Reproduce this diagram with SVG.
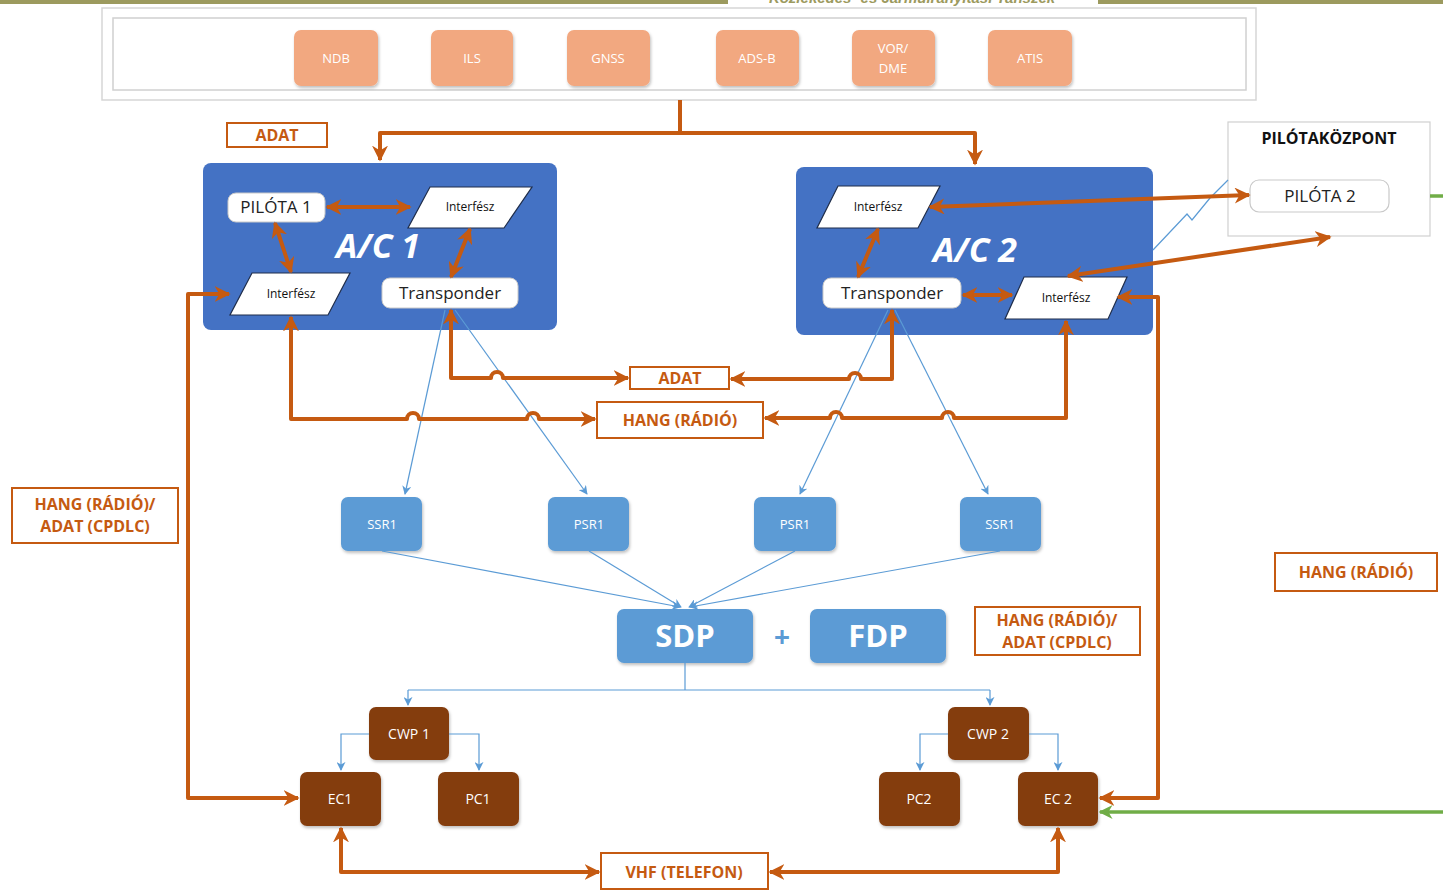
<svg xmlns="http://www.w3.org/2000/svg" width="1443" height="892" viewBox="0 0 1443 892">
<defs>
<marker id="ao" viewBox="0 0 10 10" refX="9" refY="5" markerWidth="4" markerHeight="4" orient="auto-start-reverse" markerUnits="strokeWidth"><path d="M0,0 L10,5 L0,10 L3,5 z" fill="#c55a11"/></marker>
<marker id="ab" viewBox="0 0 10 10" refX="9" refY="5" markerWidth="9" markerHeight="9" orient="auto-start-reverse" markerUnits="userSpaceOnUse"><path d="M0,0 L10,5 L0,10 L3,5 z" fill="#5b9bd5"/></marker>
<marker id="ag" viewBox="0 0 10 10" refX="9" refY="5" markerWidth="4" markerHeight="4" orient="auto-start-reverse" markerUnits="strokeWidth"><path d="M0,0 L10,5 L0,10 L3,5 z" fill="#70ad47"/></marker>
<filter id="sh" x="-10%" y="-10%" width="130%" height="140%"><feDropShadow dx="1" dy="2" stdDeviation="1.5" flood-color="#000" flood-opacity="0.25"/></filter>
</defs>
<style>
.src{fill:#f2a880;filter:url(#sh)}
.srct{font-family:"Open Sans","Liberation Sans",sans-serif;font-size:13px;fill:#fff;text-anchor:middle}
.ac{fill:#4472c4}
.wb{fill:#fff;stroke:#c9c9c9;stroke-width:1}
.par{fill:#fff;stroke:#1f2d4a;stroke-width:1.2}
.ift{font-family:"Open Sans","Liberation Sans",sans-serif;font-size:12px;fill:#111;text-anchor:middle}
.wt{font-family:"Open Sans","Liberation Sans",sans-serif;font-size:17px;fill:#222;text-anchor:middle}
.act{font-family:"Open Sans","Liberation Sans",sans-serif;font-size:34px;font-weight:bold;font-style:italic;fill:#fff;text-anchor:middle}
.oc{fill:none;stroke:#c55a11;stroke-width:4;stroke-linejoin:round}
.bc{fill:none;stroke:#5b9bd5;stroke-width:1.2}
.gc{fill:none;stroke:#70ad47;stroke-width:3.5}
.lb{fill:#fff;stroke:#c55a11;stroke-width:2}
.lt{font-family:"Open Sans","Liberation Sans",sans-serif;font-size:16px;font-weight:bold;fill:#c55a11;text-anchor:middle}
.bl{fill:#5b9bd5;filter:url(#sh)}
.blt{font-family:"Open Sans","Liberation Sans",sans-serif;font-size:13px;fill:#fff;text-anchor:middle}
.big{font-family:"Open Sans","Liberation Sans",sans-serif;font-size:31px;font-weight:bold;fill:#fff;text-anchor:middle}
.br{fill:#843c0c;filter:url(#sh)}
.brt{font-family:"Open Sans","Liberation Sans",sans-serif;font-size:14px;fill:#fff;text-anchor:middle}
</style>
<rect width="1443" height="892" fill="#fff"/>
<!-- header -->
<rect x="0" y="0" width="728" height="4" fill="#9c9a5e"/>
<rect x="1098" y="0" width="345" height="4" fill="#9c9a5e"/>
<text x="912" y="3" font-family="'Liberation Sans',sans-serif" font-size="15" font-weight="bold" font-style="italic" fill="#9c9a5e" text-anchor="middle">Közlekedés- és Járműirányítási Tanszék</text>

<!-- source box -->
<g id="sources">
<rect x="102" y="8" width="1154" height="92" fill="#fff" stroke="#d6d6d6" stroke-width="1.5"/>
<rect x="113" y="18" width="1133" height="72" fill="#fff" stroke="#d0d0d0" stroke-width="1.5"/>
<g id="ndb"><rect class="src" x="294" y="30" width="84" height="56" rx="7"/><text class="srct" x="336" y="63">NDB</text></g>
<g id="ils"><rect class="src" x="431" y="30" width="82" height="56" rx="7"/><text class="srct" x="472" y="63">ILS</text></g>
<g id="gnss"><rect class="src" x="567" y="30" width="83" height="56" rx="7"/><text class="srct" x="608" y="63">GNSS</text></g>
<g id="adsb"><rect class="src" x="716" y="30" width="83" height="56" rx="7"/><text class="srct" x="757" y="63">ADS-B</text></g>
<g id="vordme"><rect class="src" x="852" y="30" width="83" height="56" rx="7"/><text class="srct" x="893" y="53">VOR/</text><text class="srct" x="893" y="73">DME</text></g>
<g id="atis"><rect class="src" x="988" y="30" width="84" height="56" rx="7"/><text class="srct" x="1030" y="63">ATIS</text></g>
</g>

<!-- A/C 1 -->
<g id="ac1">
<rect class="ac" x="203" y="163" width="354" height="167" rx="8"/>
<text class="act" x="378" y="258">A/C 1</text>
<g id="pilota1"><rect class="wb" x="228" y="193" width="97" height="29" rx="8"/><text class="wt" x="276" y="213">PILÓTA 1</text></g>
<g id="if1a"><polygon class="par" points="430,187 532,187 504,228 408,228"/><text class="ift" x="470" y="211">Interfész</text></g>
<g id="if1b"><polygon class="par" points="252,273 350,273 328,315 230,315"/><text class="ift" x="291" y="298">Interfész</text></g>
<g id="transp1"><rect class="wb" x="382" y="278" width="136" height="30" rx="8"/><text class="wt" x="450" y="299">Transponder</text></g>
</g>

<!-- A/C 2 -->
<g id="ac2">
<rect class="ac" x="796" y="167" width="357" height="168" rx="8"/>
<text class="act" x="975" y="262">A/C 2</text>
<g id="if2a"><polygon class="par" points="838,186 940,186 918,228 817,228"/><text class="ift" x="878" y="211">Interfész</text></g>
<g id="transp2"><rect class="wb" x="823" y="278" width="138" height="30" rx="8"/><text class="wt" x="892" y="299">Transponder</text></g>
<g id="if2b"><polygon class="par" points="1024,277 1127,277 1108,319 1005,319"/><text class="ift" x="1066" y="302">Interfész</text></g>
</g>

<!-- Pilótaközpont -->
<g id="pilotakozpont">
<rect x="1228" y="122" width="202" height="114" fill="#fff" stroke="#d0d0d0" stroke-width="1.2"/>
<text x="1329" y="144" font-family="'Open Sans','Liberation Sans',sans-serif" font-size="16" font-weight="bold" fill="#111" text-anchor="middle">PILÓTAKÖZPONT</text>
<g id="pilota2"><rect x="1250" y="180" width="139" height="32" rx="9" fill="#fff" stroke="#c9c9c9" stroke-width="1.2"/><text class="wt" x="1320" y="202">PILÓTA 2</text></g>
</g>

<!-- labels -->
<g id="lbl-adat-top"><rect class="lb" x="227" y="123" width="100" height="24"/><text class="lt" x="277" y="141">ADAT</text></g>
<g id="lbl-adat"><rect class="lb" x="630" y="367" width="99" height="22"/><text class="lt" x="680" y="384">ADAT</text></g>
<g id="lbl-hang"><rect class="lb" x="597" y="402" width="166" height="36"/><text class="lt" x="680" y="426">HANG (RÁDIÓ)</text></g>
<g id="lbl-left"><rect class="lb" x="12" y="488" width="166" height="55"/><text class="lt" x="95" y="510">HANG (RÁDIÓ)/</text><text class="lt" x="95" y="532">ADAT (CPDLC)</text></g>
<g id="lbl-mid"><rect class="lb" x="975" y="607" width="165" height="48"/><text class="lt" x="1057" y="626">HANG (RÁDIÓ)/</text><text class="lt" x="1057" y="648">ADAT (CPDLC)</text></g>
<g id="lbl-right"><rect class="lb" x="1275" y="553" width="162" height="38"/><text class="lt" x="1356" y="578">HANG (RÁDIÓ)</text></g>
<g id="lbl-vhf"><rect class="lb" x="601" y="853" width="167" height="36"/><text class="lt" x="684" y="878">VHF (TELEFON)</text></g>

<!-- radar nodes -->
<g id="ssr1a"><rect class="bl" x="341" y="497" width="81" height="54" rx="7"/><text class="blt" x="382" y="529">SSR1</text></g>
<g id="psr1a"><rect class="bl" x="548" y="497" width="81" height="54" rx="7"/><text class="blt" x="589" y="529">PSR1</text></g>
<g id="psr1b"><rect class="bl" x="754" y="497" width="82" height="54" rx="7"/><text class="blt" x="795" y="529">PSR1</text></g>
<g id="ssr1b"><rect class="bl" x="960" y="497" width="81" height="54" rx="7"/><text class="blt" x="1000" y="529">SSR1</text></g>
<g id="sdp"><rect class="bl" x="617" y="609" width="136" height="54" rx="7"/><text class="big" x="685" y="647">SDP</text></g>
<text x="782" y="647" font-family="'Open Sans','Liberation Sans',sans-serif" font-size="28" font-weight="bold" fill="#5b9bd5" text-anchor="middle">+</text>
<g id="fdp"><rect class="bl" x="810" y="609" width="136" height="54" rx="7"/><text class="big" x="878" y="647">FDP</text></g>

<!-- controllers -->
<g id="cwp1"><rect class="br" x="369" y="707" width="80" height="53" rx="7"/><text class="brt" x="409" y="739">CWP 1</text></g>
<g id="ec1"><rect class="br" x="300" y="772" width="81" height="54" rx="7"/><text class="brt" x="340" y="804">EC1</text></g>
<g id="pc1"><rect class="br" x="438" y="772" width="81" height="54" rx="7"/><text class="brt" x="478" y="804">PC1</text></g>
<g id="cwp2"><rect class="br" x="948" y="707" width="81" height="53" rx="7"/><text class="brt" x="988" y="739">CWP 2</text></g>
<g id="pc2"><rect class="br" x="879" y="772" width="81" height="54" rx="7"/><text class="brt" x="919" y="804">PC2</text></g>
<g id="ec2"><rect class="br" x="1018" y="772" width="80" height="54" rx="7"/><text class="brt" x="1058" y="804">EC 2</text></g>

<!-- connectors -->
<g id="connectors">
<!-- blue -->
<path class="bc" d="M445,310 L405,494" marker-end="url(#ab)"/>
<path class="bc" d="M455,310 L587,494" marker-end="url(#ab)"/>
<path class="bc" d="M888,310 L800,494" marker-end="url(#ab)"/>
<path class="bc" d="M895,310 L988,494" marker-end="url(#ab)"/>
<path class="bc" d="M382,551 L680,607" marker-end="url(#ab)"/>
<path class="bc" d="M589,551 L681,607" marker-end="url(#ab)"/>
<path class="bc" d="M795,551 L689,607" marker-end="url(#ab)"/>
<path class="bc" d="M1000,551 L690,607" marker-end="url(#ab)"/>
<path class="bc" d="M685,663 V690"/>
<path class="bc" d="M408,690 H990"/>
<path class="bc" d="M408,690 V705" marker-end="url(#ab)"/>
<path class="bc" d="M990,690 V705" marker-end="url(#ab)"/>
<path class="bc" d="M369,734 H341 V770" marker-end="url(#ab)"/>
<path class="bc" d="M449,734 H479 V770" marker-end="url(#ab)"/>
<path class="bc" d="M948,734 H920 V770" marker-end="url(#ab)"/>
<path class="bc" d="M1029,734 H1058 V770" marker-end="url(#ab)"/>
<path class="bc" d="M1153,250 L1187,214 L1192,220 L1210,198 L1228,180"/>
<!-- orange -->
<path class="oc" d="M680,100 V133 H380 V160" marker-end="url(#ao)"/>
<path class="oc" d="M680,133 H975 V164" marker-end="url(#ao)"/>
<path class="oc" d="M327,207 H410" marker-start="url(#ao)" marker-end="url(#ao)"/>
<path class="oc" d="M275,223 L291,272" marker-start="url(#ao)" marker-end="url(#ao)"/>
<path class="oc" d="M470,229 L451,277" marker-start="url(#ao)" marker-end="url(#ao)"/>
<path class="oc" d="M878,229 L858,277" marker-start="url(#ao)" marker-end="url(#ao)"/>
<path class="oc" d="M963,295 H1012" marker-start="url(#ao)" marker-end="url(#ao)"/>
<path class="oc" d="M930,207 L1249,195" marker-start="url(#ao)" marker-end="url(#ao)"/>
<path class="oc" d="M1068,276 L1330,237" marker-start="url(#ao)" marker-end="url(#ao)"/>
<path class="oc" d="M1118,297 H1158 V798 H1100" marker-start="url(#ao)" marker-end="url(#ao)"/>
<path class="oc" d="M229,294 H188 V798 H298" marker-start="url(#ao)" marker-end="url(#ao)"/>
<path class="oc" d="M291,317 V419 H407 a6,6 0 0 1 12,0 H527 a6,6 0 0 1 12,0 H595" marker-start="url(#ao)" marker-end="url(#ao)"/>
<path class="oc" d="M451,310 V378 H491 a6,6 0 0 1 12,0 H628" marker-start="url(#ao)" marker-end="url(#ao)"/>
<path class="oc" d="M892,310 V379 H861 a6,6 0 0 0 -12,0 H731" marker-start="url(#ao)" marker-end="url(#ao)"/>
<path class="oc" d="M1066,321 V418 H954 a6,6 0 0 0 -12,0 H842 a6,6 0 0 0 -12,0 H765" marker-start="url(#ao)" marker-end="url(#ao)"/>
<path class="oc" d="M341,828 V872 H599" marker-start="url(#ao)" marker-end="url(#ao)"/>
<path class="oc" d="M1058,828 V872 H770" marker-start="url(#ao)" marker-end="url(#ao)"/>
<!-- green -->
<path class="gc" d="M1430,196 H1443"/>
<path class="gc" d="M1443,812 H1100" marker-end="url(#ag)"/>
</g>
</svg>
